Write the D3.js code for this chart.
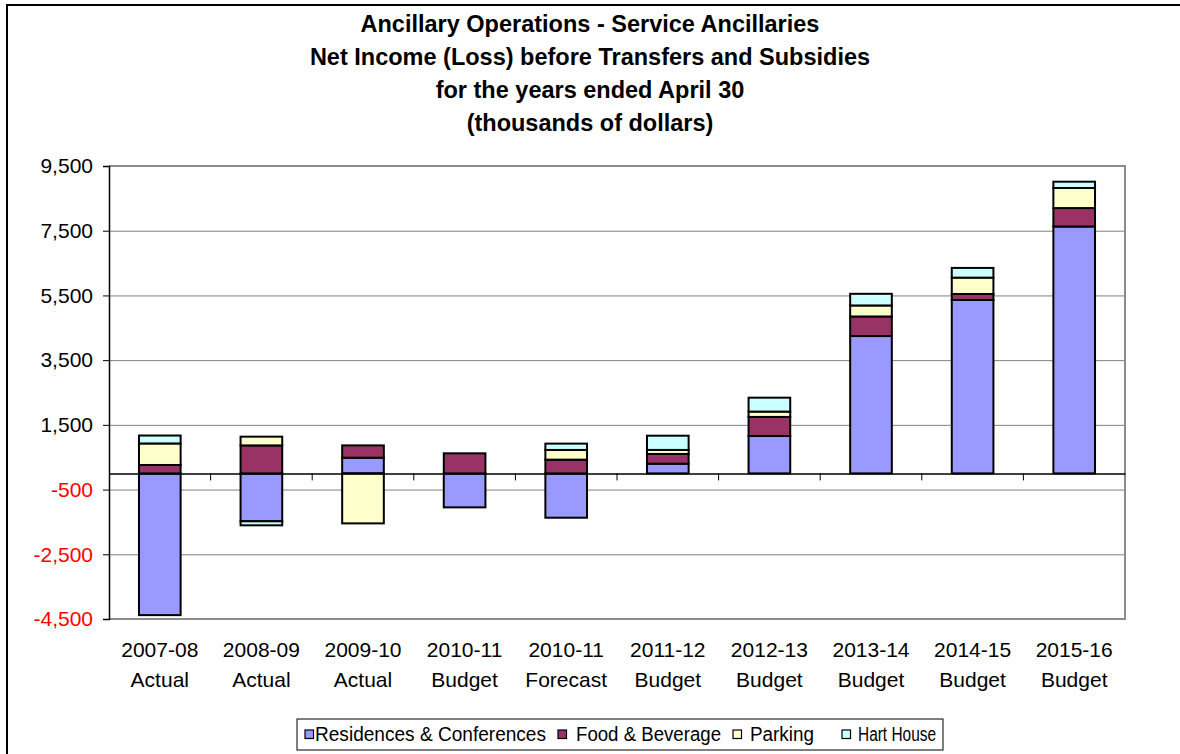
<!DOCTYPE html>
<html>
<head>
<meta charset="utf-8">
<script src="https://cdn.jsdelivr.net/npm/d3@7"></script>
<style>
  body { margin: 0; background: #fff; }
  svg { display: block; font-family: "Liberation Sans", Arial, sans-serif; }
</style>
</head>
<body>
<svg id="chart" width="1180" height="754"></svg>
<script>
// Data (thousands of dollars)
const categories = ['2007-08 Actual', '2008-09 Actual', '2009-10 Actual', '2010-11 Budget', '2010-11 Forecast',
  '2011-12 Budget', '2012-13 Budget', '2013-14 Budget', '2014-15 Budget', '2015-16 Budget'];
const seriesNames = ['Residences & Conferences', 'Food & Beverage', 'Parking', 'Hart House'];
const residences = [-4380, -1480, 485, -1050, -1370, 300, 1155, 4245, 5360, 7630];
const food = [260, 865, 380, 620, 425, 300, 590, 605, 185, 570];
const parking = [665, 270, -1545, 0, 300, 125, 165, 340, 505, 620];
const hart = [245, -125, 0, 0, 195, 440, 430, 360, 300, 195];
const yTicks = [9500, 7500, 5500, 3500, 1500, -500, -2500, -4500];
const titleLines = ['Ancillary Operations - Service Ancillaries',
  'Net Income (Loss) before Transfers and Subsidies',
  'for the years ended April 30',
  '(thousands of dollars)'];

const colors = ['#9999ff', '#993366', '#ffffcc', '#ccffff'];

const svg = d3.select('#chart');
const plot = { left: 109, right: 1125, top: 166, bottom: 619 };

// outer frame of the chart object
svg.append('rect')
  .attr('x', 7).attr('y', 5)
  .attr('width', 1200).attr('height', 800)
  .attr('fill', '#fff').attr('stroke', '#000').attr('stroke-width', 2);

// Title
svg.append('g').selectAll('text')
  .data(titleLines)
  .enter().append('text')
  .attr('x', 590)
  .attr('y', (d, i) => 32 + i * 33)
  .attr('text-anchor', 'middle')
  .style('font-size', '23.5px')
  .style('font-weight', 'bold')
  .text(d => d);

// Scales
const x = d3.scaleBand().domain(categories).range([plot.left, plot.right]).paddingInner(0).paddingOuter(0);
const y = d3.scaleLinear().domain([-4500, 9500]).range([plot.bottom, plot.top]);

// Gridlines
svg.append('g')
  .attr('transform', `translate(${plot.left},0)`)
  .call(d3.axisLeft(y).tickValues(yTicks).tickSize(-(plot.right - plot.left)).tickFormat(''))
  .call(g => g.select('.domain').remove())
  .selectAll('line').attr('stroke', '#808080').attr('stroke-width', 1);

// plot border (top/right/bottom)
svg.append('path')
  .attr('d', `M${plot.left},${plot.top}H${plot.right}V${plot.bottom}H${plot.left}`)
  .attr('fill', 'none').attr('stroke', '#8c8c8c').attr('stroke-width', 2);

// Stacked bars (positive up, negatives down)
const table = categories.map((c, i) => ({
  cat: c, s0: residences[i], s1: food[i], s2: parking[i], s3: hart[i]
}));
const stack = d3.stack().keys(['s0', 's1', 's2', 's3']).offset(d3.stackOffsetDiverging);
const layers = stack(table);
const barW = x.bandwidth() * 0.41;

svg.append('g').selectAll('g')
  .data(layers)
  .enter().append('g')
  .attr('fill', (d, i) => colors[i])
  .selectAll('rect')
  .data(d => d.filter(p => p[1] !== p[0]))
  .enter().append('rect')
  .attr('x', d => x(d.data.cat) + (x.bandwidth() - barW) / 2)
  .attr('width', barW)
  .attr('y', d => y(Math.max(d[0], d[1])))
  .attr('height', d => Math.abs(y(d[0]) - y(d[1])))
  .attr('stroke', '#000')
  .attr('stroke-width', 2);

// Y axis
const fmt = d3.format(',');
const yAxis = svg.append('g')
  .attr('transform', `translate(${plot.left},0)`)
  .call(d3.axisLeft(y).tickValues(yTicks).tickSize(6).tickPadding(10)
    .tickFormat(d => fmt(d).replace('\u2212', '-')));
yAxis.select('.domain').attr('stroke', '#000').attr('stroke-width', 1.5);
yAxis.selectAll('line').attr('stroke', '#000');
yAxis.selectAll('text')
  .style('font-size', '21px')
  .attr('fill', d => d < 0 ? '#ff0000' : '#000');

// X axis at zero
const xAxis = svg.append('g')
  .attr('transform', `translate(0,${y(0)})`)
  .call(d3.axisBottom(x).tickSize(0).tickFormat(''));
xAxis.select('.domain').attr('stroke', '#000').attr('stroke-width', 1.5);
svg.append('g').selectAll('line')
  .data(categories.slice(1))
  .enter().append('line')
  .attr('x1', d => x(d)).attr('x2', d => x(d))
  .attr('y1', y(0)).attr('y2', y(0) + 7)
  .attr('stroke', '#000');

// Category labels below the plot
const labels = svg.append('g').selectAll('text')
  .data(categories)
  .enter().append('text')
  .attr('x', d => x(d) + x.bandwidth() / 2)
  .attr('text-anchor', 'middle')
  .style('font-size', '21px');
labels.append('tspan').attr('x', d => x(d) + x.bandwidth() / 2).attr('y', 657)
  .text(d => d.split(' ')[0]);
labels.append('tspan').attr('x', d => x(d) + x.bandwidth() / 2).attr('y', 687)
  .text(d => d.split(' ')[1]);

// Legend
const legend = svg.append('g');
legend.append('rect')
  .attr('x', 297).attr('y', 719).attr('width', 646).attr('height', 31)
  .attr('fill', '#fff').attr('stroke', '#000').attr('stroke-width', 1);
const legendX = [305, 558, 733, 842];
const legendTextX = [315, 576, 750, 858];
const legendTextW = [231, 145, 64, 78];
const items = legend.selectAll('g.item')
  .data(seriesNames)
  .enter().append('g')
  .attr('class', 'item');
items.append('rect')
  .attr('x', (d, i) => legendX[i]).attr('y', 730).attr('width', 8.5).attr('height', 8.5)
  .attr('fill', (d, i) => colors[i])
  .attr('stroke', '#000').attr('stroke-width', 1.2);
items.append('text')
  .attr('x', (d, i) => legendTextX[i]).attr('y', 741)
  .style('font-size', '20px')
  .attr('textLength', (d, i) => legendTextW[i])
  .attr('lengthAdjust', 'spacingAndGlyphs')
  .text(d => d);
</script>
</body>
</html>
